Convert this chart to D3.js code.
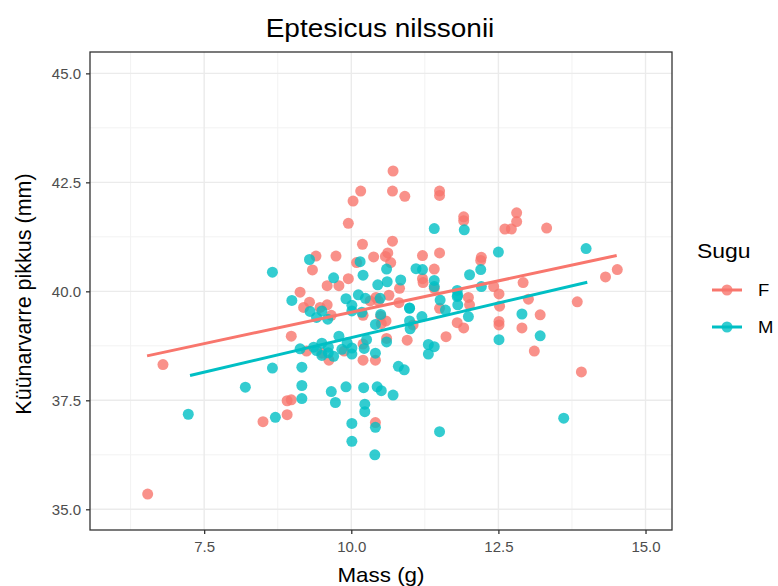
<!DOCTYPE html>
<html><head><meta charset="utf-8">
<script src="https://cdn.jsdelivr.net/npm/d3@7"></script>
<style>body{margin:0;background:#fff}</style>
</head><body>
<script>
// Data
const femaleMass = [6.54,6.80,8.50,9.13,9.29,9.59,9.47,9.19,9.66,9.24,9.50,9.62,9.88,10.20,10.41,10.20,10.20,10.42,10.59,8.91,8.98,8.91,10.41,9.59,9.79,10.16,10.03,9.95,10.19,9.40,9.74,9.34,10.09,9.95,10.71,10.70,10.91,11.50,11.50,11.91,11.91,10.70,10.38,10.62,10.58,10.67,11.21,11.50,12.20,11.41,11.21,11.22,10.82,10.64,11.99,11.41,12.61,13.32,12.81,12.81,12.72,12.21,14.52,14.32,12.92,12.42,12.51,13.01,13.84,12.52,8.98,10.81,10.50,10.51,11.05,10.95,11.50,11.61,11.80,12.01,11.91,10.32,10.46,12.51,12.51,12.90,13.21,13.11,13.91,10.60];
const femaleLen = [35.35,38.32,37.01,39.98,39.75,39.69,39.63,39.63,39.45,38.63,38.58,38.42,38.63,38.42,38.42,38.79,39.45,39.86,39.32,37.49,37.51,37.17,36.99,40.13,40.13,42.30,42.07,41.56,41.08,40.81,40.81,40.49,40.66,40.29,42.76,42.30,42.18,42.30,42.20,41.71,41.62,41.15,40.79,40.88,40.80,40.66,40.82,40.88,40.71,40.51,40.29,40.20,40.07,39.91,39.86,40.07,41.43,41.45,41.80,41.60,41.43,40.78,40.50,40.33,40.20,40.11,39.94,39.82,39.76,39.66,38.97,39.74,39.43,39.26,39.23,38.88,39.61,38.96,39.28,39.69,39.16,39.78,39.78,39.31,39.23,39.16,39.46,38.63,38.15,38.92];
const maleMass = [7.23,8.20,8.66,9.29,9.70,10.15,10.20,8.99,10.12,10.01,11.41,11.92,10.60,11.10,11.21,10.45,10.61,10.84,11.41,11.41,12.01,12.20,11.80,11.80,11.51,10.24,10.49,10.99,12.50,13.99,12.21,11.81,11.81,9.30,9.50,9.60,9.41,10.01,9.91,9.79,9.93,9.13,9.36,9.61,9.61,9.70,9.50,9.50,9.41,9.84,10.01,10.01,10.22,10.26,8.66,9.16,9.91,9.16,9.66,10.23,10.23,10.21,10.01,8.71,9.16,9.73,10.01,10.40,10.41,10.44,10.51,10.71,11.50,13.61,10.99,11.20,10.99,11.00,10.50,10.60,11.31,11.41,11.31,10.41,10.80,10.90,11.60,11.99,12.51,12.90,13.21,10.18,10.41];
const maleLen = [37.18,37.80,40.44,40.73,40.31,40.68,40.37,39.79,39.92,39.68,41.44,41.41,40.51,40.52,40.50,40.15,40.22,40.26,40.25,40.11,40.38,40.50,40.02,39.88,39.80,39.84,39.84,39.61,40.90,40.98,40.11,39.91,39.69,39.54,39.55,39.36,39.40,39.55,39.83,38.97,38.82,38.68,38.72,38.72,38.59,38.51,38.81,38.53,38.64,38.67,38.70,38.56,38.69,38.89,38.24,38.26,37.81,37.54,37.70,37.41,37.24,37.79,36.97,37.11,37.84,37.45,36.56,36.25,36.88,37.81,37.72,37.62,36.78,37.09,39.62,39.42,39.32,39.14,39.47,38.84,38.78,38.73,38.56,38.58,38.28,38.20,39.57,39.42,38.89,39.48,38.98,39.52,39.24];
const sexLevels = ["F","M"];
const sexColors = ["#F8766D","#00BFC4"];
const xTicks = [7.5,10.0,12.5,15.0];
const yTicks = [35.0,37.5,40.0,42.5,45.0];
const xMinor = [6.25,8.75,11.25,13.75];
const yMinor = [36.25,38.75,41.25,43.75];
// fitted lm lines (geom_smooth method = "lm"), endpoints
const fitF = {x:[6.53,14.51], y:[38.52,40.82]};
const fitM = {x:[7.26,14.01], y:[38.07,40.21]};
const titleText = "Eptesicus nilssonii";
const xTitle = "Mass (g)";
const yTitle = "Küünarvarre pikkus (mm)";
const legendTitle = "Sugu";

const W = 778, H = 586;
const P = {l:90, r:672, t:52, b:530};
const SX = 1.12; // horizontal stretch of text seen in the reference
const FONT = "'Liberation Sans', Arial, sans-serif";
const svg = d3.select("body").append("svg").attr("width",W).attr("height",H)
  .style("font-family",FONT);

const x = d3.scaleLinear().domain([5.56,15.45]).range([P.l,P.r]);
const y = d3.scaleLinear().domain([34.525,45.49]).range([P.b,P.t]);
const color = d3.scaleOrdinal().domain(sexLevels).range(sexColors);

// grid
const g = svg.append("g");
g.selectAll(".xm").data(xMinor).join("line").attr("x1",d=>x(d)).attr("x2",d=>x(d)).attr("y1",P.t).attr("y2",P.b).attr("stroke","#f2f2f2").attr("stroke-width",1);
g.selectAll(".ym").data(yMinor).join("line").attr("y1",d=>y(d)).attr("y2",d=>y(d)).attr("x1",P.l).attr("x2",P.r).attr("stroke","#f2f2f2").attr("stroke-width",1);
g.selectAll(".xM").data(xTicks).join("line").attr("x1",d=>x(d)).attr("x2",d=>x(d)).attr("y1",P.t).attr("y2",P.b).attr("stroke","#ebebeb").attr("stroke-width",1.4);
g.selectAll(".yM").data(yTicks).join("line").attr("y1",d=>y(d)).attr("y2",d=>y(d)).attr("x1",P.l).attr("x2",P.r).attr("stroke","#ebebeb").attr("stroke-width",1.4);

// points
const pts = [];
femaleMass.forEach((m,i)=>pts.push({sex:"F",m,l:femaleLen[i]}));
maleMass.forEach((m,i)=>pts.push({sex:"M",m,l:maleLen[i]}));
svg.append("g").selectAll("circle").data(pts).join("circle")
  .attr("cx",d=>x(d.m)).attr("cy",d=>y(d.l)).attr("r",5.5)
  .attr("fill",d=>color(d.sex)).attr("fill-opacity",0.8);

// fit lines
const line = d3.line().x(d=>x(d[0])).y(d=>y(d[1]));
[["F",fitF],["M",fitM]].forEach(([s,f])=>{
  svg.append("path").datum(f.x.map((v,i)=>[v,f.y[i]])).attr("d",line)
    .attr("stroke",color(s)).attr("stroke-width",3).attr("fill","none");
});

// border
svg.append("rect").attr("x",P.l).attr("y",P.t).attr("width",P.r-P.l).attr("height",P.b-P.t)
  .attr("fill","none").attr("stroke","#333").attr("stroke-width",1.3);

// axes
const xa = svg.append("g").attr("transform",`translate(0,${P.b})`)
  .call(d3.axisBottom(x).tickValues(xTicks).tickFormat(d3.format(".1f")).tickSize(4).tickPadding(7));
const ya = svg.append("g").attr("transform",`translate(${P.l},0)`)
  .call(d3.axisLeft(y).tickValues(yTicks).tickFormat(d3.format(".1f")).tickSize(4).tickPadding(5));
[xa,ya].forEach(a=>{
  a.select(".domain").remove();
  a.selectAll(".tick line").attr("stroke","#333").attr("stroke-width",1.3);
  a.selectAll(".tick text").attr("fill","#4d4d4d").style("font-size","15px").style("font-family",FONT);
});

// horizontal text helper with slight stretch
function htext(parent, px, py, size, anchor, str){
  return parent.append("text").attr("transform",`translate(${px},${py}) scale(${SX},1)`)
    .attr("text-anchor",anchor).style("font-size",size+"px").attr("fill","#000").text(str);
}

// titles
htext(svg, 380, 37, 25, "middle", titleText);
htext(svg, 381, 582, 20, "middle", xTitle);
svg.append("text").attr("transform",`translate(31,${(P.t+P.b)/2+3}) rotate(-90) scale(1,1)`).attr("text-anchor","middle").style("font-size","21.5px").attr("fill","#000").text(yTitle);

// legend
const lg = svg.append("g");
htext(lg, 697, 258, 20.5, "start", legendTitle);
sexLevels.forEach((s,i)=>{
  const cy = 290 + i*37;
  lg.append("line").attr("x1",712).attr("x2",742).attr("y1",cy).attr("y2",cy).attr("stroke",color(s)).attr("stroke-width",3);
  lg.append("circle").attr("cx",727).attr("cy",cy).attr("r",5.5).attr("fill",color(s)).attr("fill-opacity",0.8);
  htext(lg, 758, cy+6, 16.5, "start", s);
});
</script>
</body></html>
